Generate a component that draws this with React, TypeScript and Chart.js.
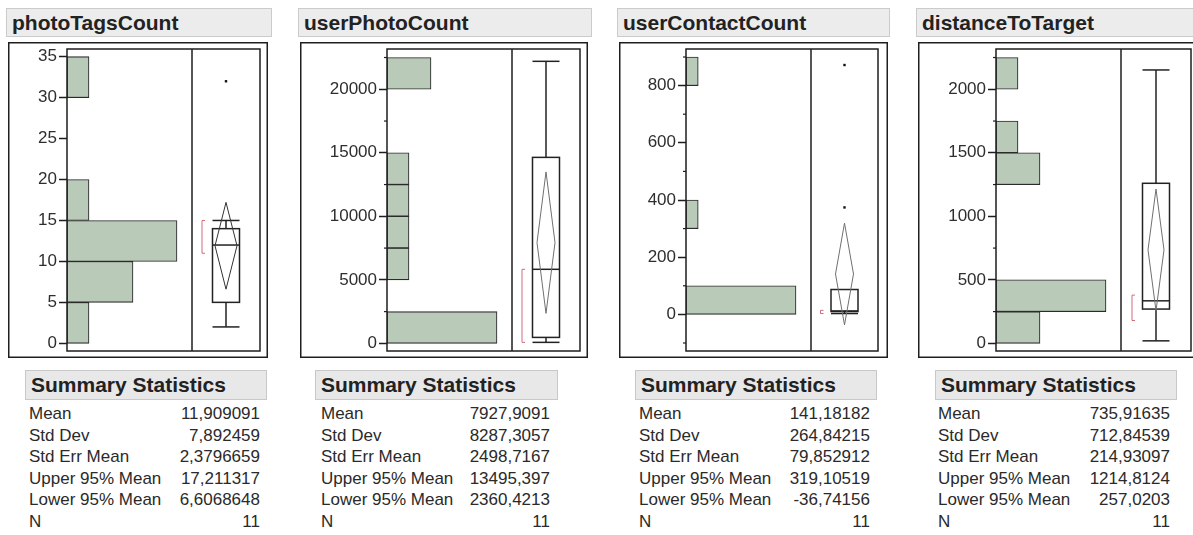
import React, { useEffect, useRef } from 'react';
import { Chart, registerables } from 'chart.js';
Chart.register(...registerables);

const FONT = "'Liberation Sans', Arial, Helvetica, sans-serif";

const statLabels = ['Mean', 'Std Dev', 'Std Err Mean', 'Upper 95% Mean', 'Lower 95% Mean', 'N'];

// ---- photoTagsCount
const photoTitle = 'photoTagsCount';
const photoBinEdges = [0, 5, 10, 15, 20, 25, 30, 35];
const photoCounts = [1, 3, 5, 1, 0, 0, 1];
const photoBox = [2, 5, 12, 14, 15]; // lower whisker, q1, median, q3, upper whisker
const photoOutliers = [32];
const photoMeanCI = [11.909091, 6.6068648, 17.211317]; // mean, lower 95, upper 95
const photoShortestHalf = [11, 15];
const photoAxisRange = [-0.94, 35.94];
const photoMajorTicks = [0, 5, 10, 15, 20, 25, 30, 35];
const photoMinorTicks: number[] = [];
const photoStats = ['11,909091', '7,892459', '2,3796659', '17,211317', '6,6068648', '11'];

// ---- userPhotoCount
const upcTitle = 'userPhotoCount';
const upcBinEdges = [0, 2500, 5000, 7500, 10000, 12500, 15000, 17500, 20000, 22500];
const upcCounts = [5, 0, 1, 1, 1, 1, 0, 0, 2];
const upcBox = [80, 470, 5830, 14640, 22200];
const upcOutliers: number[] = [];
const upcMeanCI = [7927.9091, 2360.4213, 13495.397];
const upcShortestHalf = [80, 5830];
const upcAxisRange = [-600, 23170];
const upcMajorTicks = [0, 5000, 10000, 15000, 20000];
const upcMinorTicks = [2500, 7500, 12500, 17500, 22500];
const upcStats = ['7927,9091', '8287,3057', '2498,7167', '13495,397', '2360,4213', '11'];

// ---- userContactCount
const uccTitle = 'userContactCount';
const uccBinEdges = [0, 100, 200, 300, 400, 500, 600, 700, 800, 900];
const uccCounts = [9, 0, 0, 1, 0, 0, 0, 0, 1];
const uccBox = [3, 10, 12, 87, 87];
const uccOutliers = [374, 872];
const uccMeanCI = [141.18182, -36.74156, 319.10519];
const uccShortestHalf = [3, 14];
const uccAxisRange = [-128, 928];
const uccMajorTicks = [0, 200, 400, 600, 800];
const uccMinorTicks = [-100, 100, 300, 500, 700, 900];
const uccStats = ['141,18182', '264,84215', '79,852912', '319,10519', '-36,74156', '11'];

// ---- distanceToTarget
const dttTitle = 'distanceToTarget';
const dttBinEdges = [0, 250, 500, 750, 1000, 1250, 1500, 1750, 2000, 2250];
const dttCounts = [2, 5, 0, 0, 0, 2, 1, 0, 1];
const dttBox = [20, 270, 335, 1260, 2152];
const dttOutliers: number[] = [];
const dttMeanCI = [735.91635, 257.0203, 1214.8124];
const dttShortestHalf = [180, 380];
const dttAxisRange = [-60, 2317];
const dttMajorTicks = [0, 500, 1000, 1500, 2000];
const dttMinorTicks = [250, 750, 1250, 1750, 2250];
const dttStats = ['735,91635', '712,84539', '214,93097', '1214,8124', '257,0203', '11'];

type PanelData = {
  title: string; edges: number[]; counts: number[]; box: number[]; outliers: number[];
  meanCI: number[]; shortest: number[]; range: number[]; major: number[]; minor: number[]; stats: string[];
};

const panels: PanelData[] = [
  { title: photoTitle, edges: photoBinEdges, counts: photoCounts, box: photoBox, outliers: photoOutliers, meanCI: photoMeanCI, shortest: photoShortestHalf, range: photoAxisRange, major: photoMajorTicks, minor: photoMinorTicks, stats: photoStats },
  { title: upcTitle, edges: upcBinEdges, counts: upcCounts, box: upcBox, outliers: upcOutliers, meanCI: upcMeanCI, shortest: upcShortestHalf, range: upcAxisRange, major: upcMajorTicks, minor: upcMinorTicks, stats: upcStats },
  { title: uccTitle, edges: uccBinEdges, counts: uccCounts, box: uccBox, outliers: uccOutliers, meanCI: uccMeanCI, shortest: uccShortestHalf, range: uccAxisRange, major: uccMajorTicks, minor: uccMinorTicks, stats: uccStats },
  { title: dttTitle, edges: dttBinEdges, counts: dttCounts, box: dttBox, outliers: dttOutliers, meanCI: dttMeanCI, shortest: dttShortestHalf, range: dttAxisRange, major: dttMajorTicks, minor: dttMinorTicks, stats: dttStats },
];

// layout (page pixels)
type Layout = {
  titleLeft: number; titleWidth: number; frameLeft: number; frameRight: number;
  innerLeft: number; innerRight: number; divider: number;
  headLeft: number; headRight: number; labelLeft: number; valueRight: number;
  diamondHalf: number; diamondColor: string;
};
const layouts: Layout[] = [
  { titleLeft: 6, titleWidth: 266, frameLeft: 8, frameRight: 267, innerLeft: 67, innerRight: 260, divider: 192, headLeft: 25, headRight: 267, labelLeft: 29, valueRight: 260, diamondHalf: 11, diamondColor: '#333333' },
  { titleLeft: 298, titleWidth: 294, frameLeft: 300, frameRight: 587, innerLeft: 387, innerRight: 580, divider: 512, headLeft: 315, headRight: 558, labelLeft: 321, valueRight: 550, diamondHalf: 9, diamondColor: '#707070' },
  { titleLeft: 617, titleWidth: 273, frameLeft: 619, frameRight: 887, innerLeft: 686, innerRight: 878, divider: 811, headLeft: 635, headRight: 877, labelLeft: 639, valueRight: 870, diamondHalf: 9, diamondColor: '#707070' },
  { titleLeft: 916, titleWidth: 290, frameLeft: 918, frameRight: 1198, innerLeft: 996, innerRight: 1191, divider: 1121, headLeft: 935, headRight: 1177, labelLeft: 938, valueRight: 1170, diamondHalf: 8, diamondColor: '#707070' },
];
const TITLE_TOP = 8, TITLE_H = 29;
const FRAME_TOP = 42, FRAME_BOTTOM = 357;
const INNER_TOP = 49, INNER_BOTTOM = 351;
const HEAD_TOP = 370, HEAD_H = 30;
const ROW_TOP = 404, ROW_H = 21.6;
const BAR_FILL = '#b9cab9';
const LINE = '#1e1e1e';

function PanelChart({ p, L }: { p: PanelData; L: Layout }) {
  const ref = useRef<HTMLCanvasElement>(null);
  const w = L.frameRight - L.frameLeft + 1;
  const h = FRAME_BOTTOM - FRAME_TOP + 1;
  useEffect(() => {
    const canvas = ref.current!;
    const maxCount = Math.max(...p.counts);
    const dividerValue = maxCount / 0.88;
    const xMax = dividerValue * (L.innerRight - L.innerLeft) / (L.divider - L.innerLeft);
    const data = p.counts.map((c, i) => ({ x: c, y: (p.edges[i] + p.edges[i + 1]) / 2 }));
    const allTicks = [...p.major, ...p.minor].sort((a, b) => a - b);
    const isMajor = (v: number) => p.major.includes(v);

    const plugin = {
      id: 'jmpPanel',
      afterDatasetsDraw(chart: any) {
        const { ctx, chartArea: a, scales } = chart;
        const ys = scales.y, xs = scales.x;
        const Y = (v: number) => ys.getPixelForValue(v);
        const line = (x1: number, y1: number, x2: number, y2: number) => {
          ctx.beginPath(); ctx.moveTo(x1, y1); ctx.lineTo(x2, y2); ctx.stroke();
        };
        ctx.save();
        ctx.strokeStyle = LINE;
        ctx.lineWidth = 1.5;
        ctx.strokeRect(a.left, a.top, a.right - a.left, a.bottom - a.top);
        const divX = xs.getPixelForValue(dividerValue);
        line(divX, a.top, divX, a.bottom);
        // minor ticks
        ctx.lineWidth = 1.2;
        for (const v of p.minor) { const py = Y(v); line(a.left - 3, py, a.left, py); }
        // box plot
        const cx = (divX + a.right) / 2;
        const hw = 13.5;
        const [wl, q1, med, q3, wh] = p.box;
        ctx.strokeStyle = '#222';
        ctx.lineWidth = 1.5;
        line(cx, Y(wl), cx, Y(q1));
        line(cx, Y(q3), cx, Y(wh));
        if (wl < q1) line(cx - hw, Y(wl), cx + hw, Y(wl));
        if (wh > q3) line(cx - hw, Y(wh), cx + hw, Y(wh));
        ctx.strokeRect(cx - hw, Y(q3), hw * 2, Y(q1) - Y(q3));
        line(cx - hw, Y(med), cx + hw, Y(med));
        // mean diamond
        const [m, lo, up] = p.meanCI;
        ctx.strokeStyle = L.diamondColor;
        ctx.lineWidth = 1;
        ctx.beginPath();
        ctx.moveTo(cx, Y(up));
        ctx.lineTo(cx + L.diamondHalf, Y(m));
        ctx.lineTo(cx, Y(lo));
        ctx.lineTo(cx - L.diamondHalf, Y(m));
        ctx.closePath();
        ctx.stroke();
        // outliers
        ctx.fillStyle = '#111';
        for (const o of p.outliers) ctx.fillRect(cx - 1.2, Y(o) - 1.2, 2.4, 2.4);
        // shortest half bracket
        const bx = cx - 24;
        const [sl, sh] = p.shortest;
        ctx.strokeStyle = '#d06c7c';
        ctx.lineWidth = 1;
        ctx.beginPath();
        ctx.moveTo(bx + 3, Y(sh)); ctx.lineTo(bx, Y(sh)); ctx.lineTo(bx, Y(sl)); ctx.lineTo(bx + 3, Y(sl));
        ctx.stroke();
        ctx.restore();
      },
      afterDraw(chart: any) {
        const { ctx, width, height } = chart;
        ctx.save();
        ctx.strokeStyle = LINE;
        ctx.lineWidth = 1.5;
        ctx.strokeRect(0.75, 0.75, width - 1.5, height - 1.5);
        ctx.restore();
      },
    };

    const chart = new Chart(canvas, {
      type: 'bar',
      data: {
        datasets: [{
          data,
          backgroundColor: BAR_FILL,
          borderColor: '#2b2b2b',
          borderWidth: 1.1,
          borderSkipped: false,
          barPercentage: 1,
          categoryPercentage: 1,
        }],
      },
      options: {
        indexAxis: 'y',
        animation: false,
        responsive: false,
        devicePixelRatio: 1,
        events: [],
        layout: {
          padding: {
            left: 0,
            top: INNER_TOP - FRAME_TOP,
            right: L.frameRight + 1 - L.innerRight,
            bottom: FRAME_BOTTOM + 1 - INNER_BOTTOM,
          },
        },
        plugins: { legend: { display: false }, tooltip: { enabled: false } },
        scales: {
          x: { type: 'linear', display: false, min: 0, max: xMax, offset: false },
          y: {
            type: 'linear',
            offset: false,
            min: p.range[0],
            max: p.range[1],
            afterBuildTicks: (s: any) => { s.ticks = allTicks.map((v) => ({ value: v })); },
            afterFit: (s: any) => { s.width = L.innerLeft - L.frameLeft; s.paddingTop = 0; s.paddingBottom = 0; },
            ticks: {
              autoSkip: false,
              padding: 2,
              color: '#2e2e2e',
              font: { family: FONT, size: 17 },
              callback: (v: any) => (isMajor(Number(v)) ? String(v) : ''),
            },
            grid: {
              offset: false,
              drawOnChartArea: false,
              drawTicks: true,
              tickLength: 8,
              tickWidth: 1.5,
              tickColor: (c: any) => (c.tick && isMajor(c.tick.value) ? '#1e1e1e' : 'rgba(0,0,0,0)'),
            },
            border: { display: false },
          },
        },
      },
      plugins: [plugin],
    } as any);
    return () => chart.destroy();
  }, []);
  return (
    <canvas
      ref={ref}
      width={w}
      height={h}
      style={{ position: 'absolute', left: L.frameLeft, top: FRAME_TOP, width: w, height: h }}
    />
  );
}

function Panel({ p, L }: { p: PanelData; L: Layout }) {
  return (
    <>
      <div
        style={{
          position: 'absolute', left: L.titleLeft, top: TITLE_TOP, width: L.titleWidth, height: TITLE_H,
          boxSizing: 'border-box', background: '#ececec', border: '1px solid #cbcbcb',
          font: `bold 21px ${FONT}`, lineHeight: `${TITLE_H - 2}px`, paddingLeft: 5, color: '#222',
          whiteSpace: 'nowrap', overflow: 'hidden',
        }}
      >
        {p.title}
      </div>
      <PanelChart p={p} L={L} />
      <div
        style={{
          position: 'absolute', left: L.headLeft, top: HEAD_TOP, width: L.headRight - L.headLeft, height: HEAD_H,
          boxSizing: 'border-box', background: '#e8e8e8', border: '1px solid #c8c8c8',
          font: `bold 21px ${FONT}`, lineHeight: `${HEAD_H - 2}px`, paddingLeft: 5, color: '#222',
          whiteSpace: 'nowrap', overflow: 'hidden',
        }}
      >
        Summary Statistics
      </div>
      <div style={{ position: 'absolute', left: L.labelLeft, top: ROW_TOP, width: L.valueRight - L.labelLeft }}>
        {statLabels.map((lab, i) => (
          <div
            key={lab}
            style={{
              display: 'flex', justifyContent: 'space-between', height: ROW_H, lineHeight: `${ROW_H}px`,
              font: `17px ${FONT}`, color: '#2a2a2a', whiteSpace: 'nowrap',
            }}
          >
            <span>{lab}</span>
            <span>{p.stats[i]}</span>
          </div>
        ))}
      </div>
    </>
  );
}

export default function App() {
  return (
    <div
      style={{
        position: 'fixed', left: 0, top: 0, width: 1193, height: 535, background: '#fff', overflow: 'hidden',
      }}
    >
      {panels.map((p, i) => (
        <Panel key={p.title} p={p} L={layouts[i]} />
      ))}
    </div>
  );
}
